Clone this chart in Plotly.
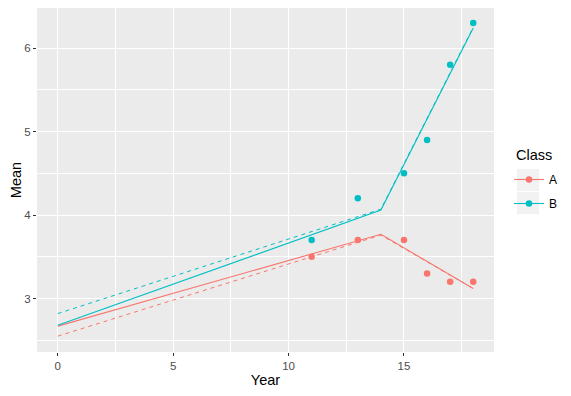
import plotly.graph_objects as go

# Data
classes = ["A", "B"]
colors = {"A": "#F8766D", "B": "#00BFC4"}
years = [11, 13, 15, 16, 17, 18]
mean_A = [3.50, 3.70, 3.70, 3.30, 3.20, 3.20]
mean_B = [3.70, 4.20, 4.50, 4.90, 5.80, 6.30]

fit_x = [0, 14, 18]
fit_A = [2.67, 3.77, 3.12]
fit_B = [2.68, 4.06, 6.24]
dash_A = [2.55, 3.76, 3.12]
dash_B = [2.82, 4.07, 6.25]

x_ticks = [0, 5, 10, 15]
y_ticks = [3, 4, 5, 6]

# page body has an 8px margin: figure origin sits at screen (8, 8)
OFF = 8
W, H = 571 - OFF, 396 - OFF
# plot area on screen: x 36.7..494, y 8..351.7
ml, mr, mt, mb = 37 - OFF, W - (494 - OFF), 0, H - (352 - OFF)

fig = go.Figure()
series = {
    "A": (mean_A, fit_A, dash_A),
    "B": (mean_B, fit_B, dash_B),
}
for c in classes:
    pts, fit, dsh = series[c]
    col = colors[c]
    fig.add_trace(go.Scatter(x=fit_x, y=dsh, mode="lines", showlegend=False,
                             line=dict(color=col, width=1, dash="4px,4px"), hoverinfo="skip"))
    fig.add_trace(go.Scatter(x=fit_x, y=fit, mode="lines", showlegend=False,
                             line=dict(color=col, width=1.1), hoverinfo="skip"))
    fig.add_trace(go.Scatter(x=years, y=pts, mode="markers", showlegend=False,
                             marker=dict(color=col, size=6.5)))
    fig.add_trace(go.Scatter(x=[None], y=[None], mode="lines+markers", name=c,
                             legendgroup=c,
                             line=dict(color=col, width=1.1), marker=dict(color=col, size=6.5)))

pw = W - ml - mr
ph = H - mt - mb
def sx(px):  # screen x -> paper
    return (px - OFF - ml) / pw
def sy(py):  # screen y -> paper
    return (H - mb - (py - OFF)) / ph

shapes = []
# legend key backgrounds
for top in [169, 192]:
    shapes.append(dict(type="rect", xref="paper", yref="paper",
                       x0=sx(517), x1=sx(539), y0=sy(top + 22), y1=sy(top),
                       fillcolor="#F2F2F2", line=dict(width=0), layer="below"))
# window frame line on the right
shapes.append(dict(type="line", xref="paper", yref="paper",
                   x0=sx(565.5), x1=sx(565.5), y0=sy(OFF), y1=sy(396),
                   line=dict(color="#B4B4B4", width=1)))

annotations = [dict(text="Class", xref="paper", yref="paper", x=sx(514), y=sy(155),
                    xanchor="left", yanchor="middle", showarrow=False,
                    font=dict(size=14.5, color="#000000"))]

fig.update_layout(
    width=W, height=H,
    margin=dict(l=ml, r=mr, t=mt, b=mb, autoexpand=False),
    paper_bgcolor="white",
    plot_bgcolor="#EBEBEB",
    font=dict(family="Liberation Sans, Arial, sans-serif", color="#000000"),
    shapes=shapes,
    annotations=annotations,
    legend=dict(
        font=dict(size=12, color="#000000"),
        xref="container", yref="container",
        x=(509 - OFF) / W, y=1 - (165 - OFF) / H, xanchor="left", yanchor="top",
        bgcolor="rgba(0,0,0,0)", itemwidth=30, traceorder="grouped", tracegroupgap=5,
    ),
    xaxis=dict(
        range=[-0.9, 18.9], tickvals=x_ticks, ticktext=[str(v) for v in x_ticks],
        showgrid=True, gridcolor="white", gridwidth=1.1, automargin=False,
        minor=dict(dtick=2.5, tick0=0, showgrid=True, gridcolor="white", gridwidth=0.5),
        zeroline=False, ticks="outside", ticklen=3, tickcolor="#333333", tickwidth=1,
        tickfont=dict(size=11.5, color="#4D4D4D"),
        title=dict(text="Year", font=dict(size=14.5, color="#000000"), standoff=4),
        showline=False,
    ),
    yaxis=dict(
        range=[2.36, 6.48], tickvals=y_ticks, ticktext=[str(v) for v in y_ticks],
        showgrid=True, gridcolor="white", gridwidth=1.1, automargin=False,
        minor=dict(dtick=0.5, tick0=0, showgrid=True, gridcolor="white", gridwidth=0.5),
        zeroline=False, ticks="outside", ticklen=3, tickcolor="#333333", tickwidth=1,
        tickfont=dict(size=11.5, color="#4D4D4D"),
        title=dict(text="Mean", font=dict(size=14.5, color="#000000"), standoff=5),
        showline=False,
    ),
)

fig.write_html("out.html")
